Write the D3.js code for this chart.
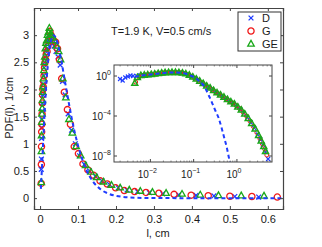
<!DOCTYPE html>
<html><head><meta charset="utf-8">
<script src="https://cdn.jsdelivr.net/npm/d3@7"></script>
<style>
body{margin:0;background:#fff}
text{font-family:"Liberation Sans",Arial,sans-serif;fill:#1a1a1a}
</style></head><body>
<svg id="chart" width="322" height="247"></svg>
<script>
// ---- main panel data (l in cm, PDF in 1/cm) ----
const xTicks = [0, 0.1, 0.2, 0.3, 0.4, 0.5, 0.6];
const yTicks = [0, 0.5, 1, 1.5, 2, 2.5, 3];
const legendNames = ['D', 'G', 'GE'];
const title = 'T=1.9 K, V=0.5 cm/s';

const lD = [0.0031,0.0035,0.0039,0.0043,0.0049,0.0055,0.0061,0.0068,0.0076,0.0086,
  0.0096,0.0107,0.0121,0.0135,0.0151,0.0169,0.019,0.0213,0.0238,0.0269,
  0.030,0.033,0.037,0.042,0.0475,0.053,0.059,0.066,0.074,0.083,
  0.093,0.104,0.117,0.130,0.146,0.163,0.183,0.206,0.229,0.257,
  0.288,0.323,0.365,0.411,0.458,0.513,0.576];
const pD = [0.53,0.72,1.1,1.3,1.45,1.6,1.75,1.9,2.0,2.1,
  2.25,2.4,2.5,2.6,2.7,2.75,2.85,2.9,2.95,2.95,
  2.9,2.85,2.8,2.7,2.6,2.45,2.15,1.9,1.55,1.25,
  1.0,0.78,0.62,0.5,0.4,0.32,0.25,0.19,0.15,0.12,
  0.1,0.08,0.06,0.05,0.04,0.03,0.02];

const lG = [0.0030,0.0034,0.0038,0.0042,0.0047,0.0053,0.0059,0.0066,0.0074,0.0083,
  0.0093,0.0104,0.0117,0.0131,0.0146,0.0164,0.0184,0.0206,0.023,0.026,
  0.029,0.032,0.036,0.041,0.046,0.051,0.057,0.064,0.072,0.080,
  0.090,0.101,0.113,0.126,0.141,0.158,0.177,0.199,0.222,0.249,
  0.279,0.313,0.353,0.398,0.443,0.500,0.558,0.625];
const pG = [0.27,0.62,0.95,1.22,1.36,1.55,1.75,1.9,2.0,2.05,
  2.15,2.25,2.4,2.5,2.55,2.65,2.7,2.8,2.9,3.07,
  3.0,2.95,2.9,2.87,2.75,2.55,2.2,1.95,1.63,1.36,
  0.95,0.82,0.63,0.52,0.42,0.32,0.26,0.19,0.14,0.12,
  0.105,0.09,0.07,0.055,0.045,0.035,0.03,0.02];

const lGE = [0.0032,0.0036,0.0040,0.0045,0.0050,0.0056,0.0063,0.0070,0.0078,0.0088,
  0.0099,0.0110,0.0124,0.0139,0.0155,0.0174,0.0195,0.0218,0.0244,0.0276,
  0.031,0.034,0.038,0.0435,0.049,0.054,0.060,0.068,0.076,0.085,
  0.095,0.107,0.120,0.134,0.149,0.167,0.188,0.211,0.235,0.264,
  0.296,0.332,0.374,0.422,0.47,0.53,0.59];
const pGE = [0.29,0.86,1.15,1.4,1.55,1.65,1.8,1.95,2.05,2.2,
  2.35,2.5,2.6,2.75,2.85,2.9,3.0,3.05,3.13,3.0,
  3.0,2.95,2.9,2.8,2.7,2.55,2.2,1.85,1.45,1.2,
  0.95,0.78,0.6,0.48,0.38,0.3,0.24,0.19,0.15,0.13,
  0.11,0.09,0.075,0.06,0.05,0.045,0.04];

// fitted curve (dashed)
const fitL = [0.002,0.003,0.005,0.0075,0.01,0.015,0.02,0.025,0.03,0.036,0.045,0.055,0.065,0.075,
  0.09,0.1,0.12,0.14,0.16,0.18,0.2,0.25,0.3,0.4,0.5,0.64];
const fitP = [0.17,0.29,0.57,0.94,1.30,1.94,2.42,2.75,2.93,3.0,2.88,2.57,2.17,1.78,
  1.25,0.97,0.55,0.30,0.16,0.083,0.042,0.0074,0.001,0,0,0];

// ---- inset data (log10 of l, log10 of PDF) ----
const insD_logL = [-2.70,-2.64,-2.58,-2.52,-2.46,-2.40,-2.32,-2.24,-2.16,-2.08,
  -2.0,-1.92,-1.84,-1.76,-1.68,-1.60,-1.52,-1.44,-1.36,-1.28,
  -1.20,-1.12,-1.04,-0.96,-0.88,-0.80,-0.72,-0.64,-0.56,-0.48,
  -0.40,-0.32,-0.24,-0.16,-0.08,0.0,0.08,0.16,0.24,0.32,
  0.40,0.48,0.54,0.60,0.66,0.72];
const insD_logP = [-0.3,-0.45,-0.15,-0.05,0.05,0.0,0.02,0.06,0.1,0.12,
  0.14,0.18,0.22,0.27,0.3,0.32,0.34,0.34,0.33,0.3,
  0.22,0.1,-0.07,-0.27,-0.48,-0.72,-0.95,-1.18,-1.42,-1.65,
  -1.88,-2.1,-2.33,-2.56,-2.78,-3.05,-3.35,-3.72,-4.15,-4.65,
  -5.2,-5.85,-6.35,-6.9,-7.6,-8.3];

const insG_logL = [-2.34,-2.26,-2.18,-2.10,-2.02,-1.94,-1.86,-1.78,-1.70,-1.62,
  -1.54,-1.46,-1.38,-1.30,-1.22,-1.14,-1.06,-0.98,-0.90,-0.82,
  -0.74,-0.66,-0.58,-0.50,-0.42,-0.34,-0.26,-0.18,-0.10,-0.02,
  0.06,0.14,0.22,0.30,0.38,0.46,0.53,0.59,0.64,0.69];
const insG_logP = [-0.6,-0.1,0.04,0.1,0.13,0.17,0.22,0.27,0.31,0.33,
  0.35,0.35,0.35,0.32,0.26,0.15,-0.02,-0.22,-0.42,-0.65,
  -0.9,-1.12,-1.35,-1.58,-1.8,-2.03,-2.26,-2.48,-2.7,-2.95,
  -3.25,-3.6,-4.0,-4.5,-5.05,-5.65,-6.25,-6.8,-7.3,-7.9];

const insGE_logL = [-2.36,-2.30,-2.22,-2.14,-2.06,-1.98,-1.90,-1.82,-1.74,-1.66,
  -1.58,-1.50,-1.42,-1.34,-1.26,-1.18,-1.10,-1.02,-0.94,-0.86,
  -0.78,-0.70,-0.62,-0.54,-0.46,-0.38,-0.30,-0.22,-0.14,-0.06,
  0.02,0.10,0.18,0.26,0.34,0.42,0.50,0.56,0.62,0.66];
const insGE_logP = [-0.73,-0.15,0.05,0.08,0.12,0.15,0.20,0.25,0.30,0.33,
  0.35,0.36,0.36,0.34,0.30,0.22,0.08,-0.10,-0.30,-0.52,
  -0.75,-1.00,-1.20,-1.45,-1.68,-1.90,-2.12,-2.35,-2.58,-2.80,
  -3.10,-3.40,-3.80,-4.25,-4.75,-5.30,-5.95,-6.50,-7.05,-7.55];

const insFit_logL = [-2.36,-2.2,-2.0,-1.8,-1.6,-1.4,-1.2,-1.05,-0.95,-0.88,-0.8,-0.73,
  -0.65,-0.57,-0.5,-0.42,-0.36,-0.3,-0.24,-0.19,-0.16];
const insFit_logP = [-0.1,0.05,0.15,0.25,0.33,0.36,0.25,0.0,-0.2,-0.47,-0.8,-1.23,
  -1.95,-2.73,-3.45,-4.23,-5.1,-6.07,-7.05,-8.07,-8.7];

const insXTicks = [-2, -1, 0];      // exponents
const insYTicks = [0, -4, -8];

// ---- styles ----
const BLUE = '#1f3cff', RED = '#f01818', GREEN = '#1aa81a', AX = '#444';

const svg = d3.select('#chart');

const x = d3.scaleLinear().domain([-0.016, 0.64]).range([34, 283]);
const y = d3.scaleLinear().domain([-0.2, 3.5]).range([209, 8]);

// marker painters: (group, size, stroke width)
function cross(g, s, w) {
  return g.append('path').attr('d', `M${-s},${-s}L${s},${s}M${-s},${s}L${s},${-s}`)
    .attr('stroke', BLUE).attr('stroke-width', w).attr('fill', 'none');
}
function ring(g, r, w) {
  return g.append('circle').attr('r', r).attr('stroke', RED).attr('stroke-width', w).attr('fill', 'none');
}
function tri(g, s, w) {
  return g.append('path').attr('d', `M0,${-s}L${s*0.9},${s*0.6}L${-s*0.9},${s*0.6}Z`)
    .attr('stroke', GREEN).attr('stroke-width', w).attr('fill', 'none');
}

function drawSeries(parent, pts, sx, sy, painter, size, w) {
  parent.append('g').selectAll('g').data(pts).join('g')
    .attr('transform', d => `translate(${sx(d[0])},${sy(d[1])})`)
    .each(function() { painter(d3.select(this), size, w); });
}

// ---- main frame ----
svg.append('rect').attr('x', 34).attr('y', 8).attr('width', 249).attr('height', 201)
  .attr('fill', '#fff');

const main = svg.append('g');
drawSeries(main, d3.zip(lD, pD), x, y, cross, 2.4, 1.3);
drawSeries(main, d3.zip(lG, pG), x, y, ring, 3.1, 1.3);
drawSeries(main, d3.zip(lGE, pGE), x, y, tri, 3.6, 1.3);

main.append('path').datum(d3.zip(fitL, fitP))
  .attr('d', d3.line().x(d => x(d[0])).y(d => y(d[1])).curve(d3.curveMonotoneX))
  .attr('fill', 'none').attr('stroke', BLUE).attr('stroke-width', 2).attr('stroke-dasharray', '4,3');

// axes (ticks inside, box all round)
const axG = svg.append('g');
axG.append('g').attr('transform', 'translate(0,209)')
  .call(d3.axisBottom(x).tickValues(xTicks).tickSize(-3).tickPadding(6).tickFormat(d3.format('~g')));
axG.append('g').attr('transform', 'translate(0,8)')
  .call(d3.axisTop(x).tickValues(xTicks).tickSize(-3).tickFormat(''));
axG.append('g').attr('transform', 'translate(34,0)')
  .call(d3.axisLeft(y).tickValues(yTicks).tickSize(-3).tickPadding(5).tickFormat(d3.format('~g')));
axG.append('g').attr('transform', 'translate(283,0)')
  .call(d3.axisRight(y).tickValues(yTicks).tickSize(-3).tickFormat(''));
axG.selectAll('.domain').attr('stroke', AX).attr('stroke-width', 1.2);
axG.selectAll('.tick line').attr('stroke', AX);
axG.selectAll('.tick text').attr('font-size', 11).attr('fill', '#1a1a1a')
  .attr('font-family', '"Liberation Sans",Arial,sans-serif');

// labels
svg.append('text').attr('x', 158).attr('y', 237).attr('text-anchor', 'middle')
  .attr('font-size', 11).text('l, cm');
svg.append('text').attr('transform', 'translate(13,108) rotate(-90)').attr('text-anchor', 'middle')
  .attr('font-size', 11).text('PDF(l), 1/cm');
svg.append('text').attr('x', 111).attr('y', 35).attr('font-size', 11).text(title);

// ---- inset ----
const ix = d3.scaleLog().domain([Math.pow(10, -2.84), Math.pow(10, 0.81)]).range([114, 272]);
const iy = d3.scaleLog().domain([Math.pow(10, -8.6), Math.pow(10, 1.1)]).range([162, 65]);
const p10 = v => Math.pow(10, v);

svg.append('rect').attr('x', 114).attr('y', 65).attr('width', 158).attr('height', 97)
  .attr('fill', '#fff');
svg.append('clipPath').attr('id', 'ic').append('rect')
  .attr('x', 114).attr('y', 65).attr('width', 158).attr('height', 97);
const ins = svg.append('g').attr('clip-path', 'url(#ic)');

const toPts = (a, b) => d3.zip(a, b).map(d => [p10(d[0]), p10(d[1])]);
drawSeries(ins, toPts(insD_logL, insD_logP), ix, iy, cross, 2, 1.1);
drawSeries(ins, toPts(insG_logL, insG_logP), ix, iy, ring, 2, 1);
drawSeries(ins, toPts(insGE_logL, insGE_logP), ix, iy, tri, 3.3, 1.5);
ins.append('path').datum(toPts(insFit_logL, insFit_logP))
  .attr('d', d3.line().x(d => ix(d[0])).y(d => iy(d[1])).curve(d3.curveMonotoneX))
  .attr('fill', 'none').attr('stroke', BLUE).attr('stroke-width', 2).attr('stroke-dasharray', '4,3');

// inset frame and ticks
const ia = svg.append('g');
ia.append('rect').attr('x', 114).attr('y', 65).attr('width', 158).attr('height', 97)
  .attr('fill', 'none').attr('stroke', AX).attr('stroke-width', 1);
const minorX = [];
[-3, -2, -1, 0].forEach(e => d3.range(2, 10).forEach(m => minorX.push(m * p10(e))));
ia.selectAll('.mx').data(minorX.filter(v => ix(v) > 114 && ix(v) < 272)).join('g')
  .each(function(v) {
    const g = d3.select(this);
    g.append('line').attr('x1', ix(v)).attr('x2', ix(v)).attr('y1', 162).attr('y2', 160.5);
    g.append('line').attr('x1', ix(v)).attr('x2', ix(v)).attr('y1', 65).attr('y2', 66.5);
  }).selectAll('line').attr('stroke', AX).attr('stroke-width', 0.6);
insXTicks.forEach(e => {
  const px = ix(p10(e));
  ia.append('line').attr('x1', px).attr('x2', px).attr('y1', 162).attr('y2', 159).attr('stroke', AX);
  ia.append('line').attr('x1', px).attr('x2', px).attr('y1', 65).attr('y2', 68).attr('stroke', AX);
  const t = ia.append('text').attr('x', px - 3).attr('y', 178).attr('text-anchor', 'middle').attr('font-size', 10);
  t.append('tspan').text('10');
  t.append('tspan').attr('dy', -5).attr('font-size', 7).text(e < 0 ? '\u2212' + (-e) : e);
});
insYTicks.forEach(e => {
  const py = iy(p10(e));
  ia.append('line').attr('x1', 114).attr('x2', 117).attr('y1', py).attr('y2', py).attr('stroke', AX);
  ia.append('line').attr('x1', 272).attr('x2', 269).attr('y1', py).attr('y2', py).attr('stroke', AX);
  const t = ia.append('text').attr('x', 111).attr('y', py + 4).attr('text-anchor', 'end').attr('font-size', 10);
  t.append('tspan').text('10');
  t.append('tspan').attr('dy', -5).attr('font-size', 7).text(e < 0 ? '\u2212' + (-e) : e);
});

// ---- legend ----
const lg = svg.append('g');
lg.append('rect').attr('x', 238).attr('y', 12).attr('width', 43).attr('height', 39)
  .attr('fill', '#fff').attr('stroke', '#333').attr('stroke-width', 1);
const painters = [[cross, 2.4], [ring, 3.1], [tri, 3.6]];
legendNames.forEach((name, i) => {
  const cy = 18 + i * 13;
  const g = lg.append('g').attr('transform', `translate(251,${cy})`);
  painters[i][0](g, painters[i][1], 1.3);
  lg.append('text').attr('x', 262).attr('y', cy + 4).attr('font-size', 11).text(name);
});
</script>
</body></html>
